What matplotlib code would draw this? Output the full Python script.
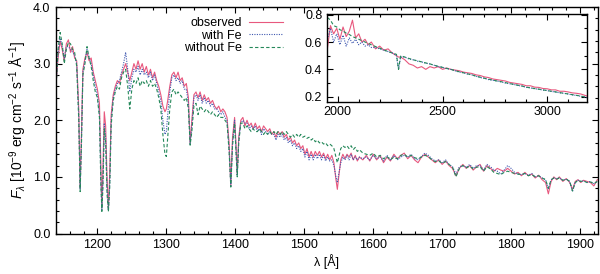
import matplotlib
matplotlib.use("Agg")
import matplotlib.pyplot as plt
from matplotlib.ticker import MultipleLocator

plt.rcParams['font.family'] = ['Liberation Sans', 'DejaVu Sans']
plt.rcParams['mathtext.fontset'] = 'custom'
plt.rcParams['mathtext.rm'] = 'Liberation Sans'
plt.rcParams['mathtext.it'] = 'Liberation Sans:italic'

# ---------------- main panel data ----------------
wl_main = [1140, 1143, 1146, 1149, 1152, 1155, 1158, 1161, 1164, 1167, 1170, 1173, 1175, 1177, 1179,
           1182, 1185, 1188, 1191, 1194, 1197, 1200, 1203, 1205, 1206.5, 1208, 1210, 1212, 1214, 1216,
           1218, 1220, 1223, 1226, 1229, 1232, 1235, 1238, 1241, 1244, 1247, 1250, 1253, 1256, 1259,
           1262, 1265, 1268, 1271, 1274, 1277, 1280, 1283, 1286, 1289, 1292, 1295, 1298, 1300, 1302,
           1305, 1308, 1311, 1314, 1317, 1320, 1323, 1326, 1329, 1332, 1334.5, 1337, 1340, 1343, 1346,
           1349, 1352, 1355, 1358, 1361, 1364, 1367, 1370, 1373, 1376, 1379, 1382, 1385, 1388, 1391,
           1393.5, 1396, 1399, 1401, 1402.8, 1405, 1408, 1411, 1414, 1417, 1420, 1423, 1426, 1429, 1432,
           1435, 1438, 1441, 1444, 1447, 1450, 1453, 1456, 1459, 1462, 1465, 1468, 1471, 1474, 1477,
           1480, 1483, 1486, 1489, 1492, 1495, 1498, 1501, 1504, 1507, 1510, 1513, 1516, 1519, 1522,
           1525, 1528, 1531, 1534, 1537, 1540, 1543, 1546, 1548, 1550, 1553, 1556, 1559, 1562, 1565,
           1568, 1571, 1574, 1577, 1580, 1585, 1590, 1595, 1600, 1605, 1610, 1615, 1620, 1625, 1630,
           1635, 1640, 1645, 1650, 1655, 1660, 1665, 1670, 1675, 1680, 1685, 1690, 1695, 1700, 1705,
           1710, 1715, 1720, 1725, 1730, 1735, 1740, 1745, 1750, 1755, 1760, 1765, 1770, 1775, 1780,
           1785, 1790, 1795, 1800, 1805, 1810, 1815, 1820, 1825, 1830, 1835, 1840, 1845, 1850, 1854,
           1858, 1862, 1866, 1870, 1875, 1880, 1885, 1889, 1893, 1897, 1901, 1905, 1910, 1915, 1920, 1925]

obs_main = [2.65, 3.10, 3.40, 3.25, 3.05, 3.35, 3.42, 3.20, 3.30, 3.10, 3.05, 2.20, 0.80, 1.80, 2.90,
            3.10, 3.20, 3.05, 3.10, 2.85, 2.70, 2.55, 2.30, 1.20, 0.45, 1.10, 2.15, 1.90, 1.00, 0.42,
            1.10, 2.10, 2.45, 2.60, 2.70, 2.65, 2.80, 2.90, 3.00, 2.85, 2.70, 2.85, 3.00, 2.90, 3.05,
            2.90, 3.00, 2.85, 2.95, 2.80, 2.90, 2.75, 2.85, 2.70, 2.60, 2.45, 2.25, 2.15, 2.20, 2.35,
            2.60, 2.80, 2.85, 2.75, 2.85, 2.70, 2.75, 2.60, 2.65, 2.40, 1.60, 2.00, 2.45, 2.50, 2.40,
            2.50, 2.35, 2.45, 2.35, 2.40, 2.30, 2.35, 2.25, 2.20, 2.25, 2.15, 2.20, 2.15, 2.05, 1.60,
            0.85, 1.70, 2.05, 1.60, 1.05, 1.70, 2.00, 2.05, 1.90, 2.00, 1.90, 1.95, 1.85, 1.95, 1.85,
            1.90, 1.80, 1.90, 1.85, 1.80, 1.85, 1.75, 1.80, 1.70, 1.80, 1.75, 1.80, 1.70, 1.75, 1.65,
            1.70, 1.60, 1.65, 1.55, 1.60, 1.50, 1.55, 1.40, 1.50, 1.35, 1.45, 1.35, 1.45, 1.38, 1.45,
            1.35, 1.42, 1.32, 1.40, 1.30, 1.38, 1.25, 0.95, 0.78, 1.00, 1.30, 1.40, 1.32, 1.40, 1.35,
            1.42, 1.30, 1.38, 1.28, 1.35, 1.30, 1.38, 1.28, 1.40, 1.30, 1.38, 1.25, 1.35, 1.28, 1.40,
            1.32, 1.38, 1.42, 1.32, 1.38, 1.30, 1.25, 1.35, 1.40, 1.35, 1.30, 1.25, 1.30, 1.22, 1.28,
            1.20, 1.15, 1.02, 1.15, 1.22, 1.15, 1.20, 1.12, 1.18, 1.22, 1.10, 1.20, 1.15, 1.10, 1.15,
            1.12, 1.10, 1.15, 1.10, 1.05, 1.08, 1.02, 1.08, 1.02, 1.05, 0.98, 1.03, 0.95, 0.90, 0.70,
            0.92, 1.00, 0.95, 1.00, 0.92, 0.97, 0.90, 0.78, 0.92, 0.95, 0.90, 0.94, 0.92, 0.90, 0.84, 0.95]

fe_main = [2.60, 3.20, 3.45, 3.30, 3.10, 3.30, 3.30, 3.25, 3.20, 3.15, 3.00, 2.10, 0.78, 1.70, 2.85,
           3.05, 3.25, 3.10, 3.00, 2.80, 2.60, 2.45, 2.10, 1.00, 0.40, 0.90, 1.95, 1.70, 0.80, 0.40,
           0.90, 2.00, 2.40, 2.55, 2.65, 2.70, 2.85, 3.00, 3.20, 2.90, 2.50, 2.75, 2.90, 2.85, 2.95,
           2.80, 2.90, 2.80, 2.85, 2.75, 2.85, 2.70, 2.80, 2.65, 2.50, 2.35, 2.00, 1.75, 1.80, 2.10,
           2.50, 2.75, 2.80, 2.70, 2.75, 2.65, 2.70, 2.55, 2.55, 2.30, 1.58, 1.90, 2.40, 2.45, 2.35,
           2.45, 2.30, 2.40, 2.30, 2.35, 2.25, 2.30, 2.20, 2.20, 2.15, 2.10, 2.15, 2.05, 2.00, 1.50,
           0.84, 1.60, 2.00, 1.50, 1.02, 1.65, 1.95, 2.00, 1.95, 1.95, 1.85, 1.90, 1.85, 1.90, 1.80,
           1.85, 1.75, 1.85, 1.80, 1.75, 1.80, 1.75, 1.75, 1.65, 1.75, 1.70, 1.75, 1.65, 1.70, 1.60,
           1.65, 1.55, 1.60, 1.50, 1.55, 1.45, 1.50, 1.35, 1.45, 1.30, 1.40, 1.30, 1.40, 1.32, 1.40,
           1.30, 1.38, 1.28, 1.35, 1.28, 1.30, 1.20, 1.00, 0.90, 1.05, 1.25, 1.35, 1.30, 1.38, 1.30,
           1.40, 1.30, 1.35, 1.30, 1.35, 1.32, 1.35, 1.30, 1.38, 1.32, 1.35, 1.28, 1.38, 1.30, 1.38,
           1.30, 1.35, 1.38, 1.35, 1.40, 1.32, 1.30, 1.36, 1.42, 1.38, 1.32, 1.28, 1.30, 1.25, 1.30,
           1.22, 1.18, 1.05, 1.18, 1.20, 1.17, 1.22, 1.15, 1.20, 1.20, 1.12, 1.22, 1.18, 1.12, 1.10,
           1.05, 1.12, 1.20, 1.15, 1.08, 1.05, 1.04, 1.06, 1.03, 1.06, 1.00, 1.02, 0.98, 0.95, 0.78,
           0.95, 0.98, 0.97, 0.98, 0.94, 0.96, 0.92, 0.74, 0.90, 0.94, 0.92, 0.93, 0.90, 0.92, 0.88, 0.92]

nofe_main = [2.55, 3.25, 3.55, 3.35, 3.00, 3.25, 3.38, 3.35, 3.25, 3.20, 2.95, 2.00, 0.74, 1.60, 2.80,
             3.00, 3.30, 3.10, 2.95, 2.70, 2.50, 2.40, 2.05, 0.90, 0.39, 0.80, 1.85, 1.60, 0.70, 0.39,
             0.85, 1.90, 2.35, 2.50, 2.60, 2.55, 2.75, 2.85, 2.90, 2.60, 2.20, 2.55, 2.70, 2.65, 2.75,
             2.60, 2.70, 2.65, 2.70, 2.60, 2.70, 2.60, 2.65, 2.55, 2.40, 2.20, 1.75, 1.40, 1.36, 1.70,
             2.20, 2.50, 2.55, 2.45, 2.50, 2.45, 2.40, 2.35, 2.40, 2.20, 1.56, 1.80, 2.25, 2.30, 2.10,
             2.25, 2.20, 2.15, 2.20, 2.15, 2.10, 2.15, 2.10, 2.05, 2.10, 2.05, 2.05, 2.00, 1.95, 1.45,
             0.82, 1.55, 1.95, 1.45, 1.00, 1.60, 1.95, 1.95, 1.85, 1.90, 1.85, 1.80, 1.85, 1.80, 1.80,
             1.85, 1.80, 1.75, 1.80, 1.75, 1.80, 1.75, 1.80, 1.75, 1.80, 1.75, 1.80, 1.75, 1.80, 1.75,
             1.70, 1.75, 1.70, 1.75, 1.70, 1.75, 1.70, 1.72, 1.68, 1.70, 1.65, 1.68, 1.62, 1.65, 1.60,
             1.62, 1.58, 1.60, 1.55, 1.58, 1.55, 1.50, 1.35, 1.25, 1.35, 1.50, 1.55, 1.52, 1.55, 1.50,
             1.55, 1.48, 1.52, 1.45, 1.48, 1.42, 1.40, 1.38, 1.42, 1.35, 1.38, 1.32, 1.36, 1.30, 1.35,
             1.32, 1.38, 1.40, 1.35, 1.38, 1.34, 1.32, 1.35, 1.38, 1.36, 1.30, 1.27, 1.28, 1.24, 1.27,
             1.22, 1.17, 1.00, 1.15, 1.20, 1.16, 1.19, 1.14, 1.17, 1.18, 1.10, 1.18, 1.14, 1.08, 1.06,
             1.04, 1.08, 1.10, 1.08, 1.06, 1.05, 1.04, 1.06, 1.02, 1.04, 1.00, 1.02, 0.98, 0.95, 0.80,
             0.95, 0.98, 0.96, 0.98, 0.94, 0.96, 0.92, 0.75, 0.90, 0.94, 0.92, 0.93, 0.90, 0.91, 0.88, 0.92]

# ---------------- inset data ----------------
wl_in = [1950, 1965, 1980, 1995, 2010, 2025, 2040, 2055, 2070, 2085, 2100, 2115, 2130, 2145, 2160,
         2180, 2200, 2220, 2240, 2260, 2280, 2290, 2300, 2320, 2340, 2360, 2380, 2400, 2420, 2440,
         2460, 2480, 2500, 2520, 2540, 2560, 2580, 2600, 2620, 2640, 2660, 2680, 2700, 2720, 2740,
         2760, 2780, 2800, 2820, 2840, 2860, 2880, 2900, 2920, 2940, 2960, 2980, 3000, 3020, 3040,
         3060, 3080, 3100, 3120, 3140, 3160, 3180, 3190]

obs_in = [0.55, 0.72, 0.66, 0.70, 0.62, 0.71, 0.64, 0.68, 0.76, 0.63, 0.66, 0.60, 0.62, 0.58, 0.60,
          0.55, 0.57, 0.54, 0.55, 0.52, 0.50, 0.49, 0.49, 0.47, 0.44, 0.43, 0.41, 0.42, 0.40, 0.42,
          0.41, 0.42, 0.40, 0.41, 0.40, 0.395, 0.39, 0.38, 0.375, 0.37, 0.36, 0.355, 0.345, 0.34, 0.33,
          0.325, 0.32, 0.315, 0.305, 0.30, 0.295, 0.29, 0.28, 0.28, 0.27, 0.268, 0.26, 0.258, 0.25, 0.25,
          0.24, 0.24, 0.235, 0.228, 0.225, 0.22, 0.21, 0.205]

fe_in = [0.62, 0.70, 0.60, 0.66, 0.58, 0.65, 0.57, 0.63, 0.59, 0.62, 0.58, 0.60, 0.57, 0.58, 0.56,
         0.56, 0.55, 0.54, 0.53, 0.52, 0.50, 0.40, 0.49, 0.49, 0.475, 0.47, 0.46, 0.455, 0.445, 0.44,
         0.43, 0.42, 0.415, 0.405, 0.40, 0.39, 0.38, 0.375, 0.365, 0.36, 0.35, 0.34, 0.335, 0.325, 0.32,
         0.315, 0.308, 0.30, 0.295, 0.29, 0.282, 0.278, 0.268, 0.265, 0.258, 0.255, 0.248, 0.245, 0.238, 0.235,
         0.228, 0.225, 0.22, 0.213, 0.21, 0.203, 0.198, 0.192]

nofe_in = [0.78, 0.76, 0.72, 0.71, 0.69, 0.68, 0.665, 0.655, 0.64, 0.63, 0.62, 0.61, 0.60, 0.59, 0.58,
           0.567, 0.555, 0.543, 0.53, 0.52, 0.51, 0.40, 0.50, 0.49, 0.48, 0.47, 0.463, 0.455, 0.447, 0.44,
           0.43, 0.422, 0.415, 0.407, 0.40, 0.39, 0.383, 0.375, 0.367, 0.36, 0.35, 0.343, 0.335, 0.328, 0.322,
           0.315, 0.31, 0.303, 0.297, 0.29, 0.284, 0.278, 0.27, 0.265, 0.26, 0.255, 0.25, 0.245, 0.24, 0.235,
           0.23, 0.225, 0.22, 0.215, 0.21, 0.205, 0.198, 0.195]

labels = ["observed", "with Fe", "without Fe"]
colors = ["#e8587e", "#3f58b0", "#25885a"]
styles = ["-", (0, (1, 1.2)), (0, (3, 2))]

W, H = 600, 274
fig = plt.figure(figsize=(6.0, 2.74), dpi=100)

def ax_rect(l, r, t, b):
    return [l / W, 1 - b / H, (r - l) / W, (b - t) / H]

ax = fig.add_axes(ax_rect(56, 598, 7, 233.5))
series = [obs_main, fe_main, nofe_main]
handles = []
for lab, c, ls, y in zip(labels, colors, styles, series):
    h, = ax.plot(wl_main, y, color=c, ls=ls, lw=0.8, label=lab)
    handles.append(h)
ax.set_xlim(1140, 1926)
ax.set_ylim(0, 4)
ax.xaxis.set_major_locator(MultipleLocator(100))
ax.xaxis.set_minor_locator(MultipleLocator(20))
ax.yaxis.set_major_locator(MultipleLocator(1))
ax.yaxis.set_minor_locator(MultipleLocator(0.2))
ax.yaxis.set_major_formatter(matplotlib.ticker.FormatStrFormatter('%.1f'))
ax.tick_params(which='both', direction='in', top=True, right=True, labelsize=9, width=0.8)
ax.tick_params(which='major', length=4.5, pad=4)
ax.tick_params(which='minor', length=2.5)
for s in ax.spines.values():
    s.set_linewidth(1.0)
ax.set_xlabel('λ [Å]', fontsize=9, labelpad=2)
ax.set_ylabel(r'$F_\lambda$ [10$^{-9}$ erg cm$^{-2}$ s$^{-1}$ Å$^{-1}$]', fontsize=10, labelpad=3)

leg = fig.legend(handles=handles, labels=labels, loc='upper right',
                 bbox_to_anchor=(283 / W, 1 - 17 / H), frameon=False, fontsize=9,
                 markerfirst=False, handlelength=2.7, handletextpad=0.6,
                 labelspacing=0.05, borderpad=0, borderaxespad=0)

axi = fig.add_axes(ax_rect(326.5, 587, 14, 101.5))
axi.set_facecolor('white')
for lab, c, ls, y in zip(labels, colors, styles, [obs_in, fe_in, nofe_in]):
    axi.plot(wl_in, y, color=c, ls=ls, lw=0.8)
axi.set_xlim(1946, 3190)
axi.set_ylim(0.165, 0.805)
axi.xaxis.set_major_locator(MultipleLocator(500))
axi.xaxis.set_minor_locator(MultipleLocator(100))
axi.yaxis.set_major_locator(MultipleLocator(0.2))
axi.yaxis.set_minor_locator(MultipleLocator(0.1))
axi.yaxis.set_major_formatter(matplotlib.ticker.FormatStrFormatter('%.1f'))
axi.tick_params(which='both', direction='in', top=True, right=True, labelsize=9, width=0.8)
axi.tick_params(which='major', length=4, pad=3)
axi.tick_params(which='minor', length=2)
for s in axi.spines.values():
    s.set_linewidth(1.0)

fig.savefig('out.png', dpi=100)
